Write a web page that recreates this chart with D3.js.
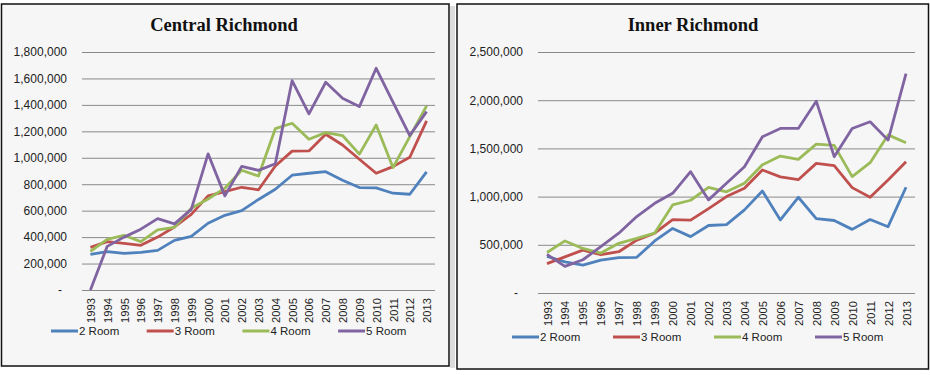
<!DOCTYPE html>
<html>
<head>
<meta charset="utf-8">
<script src="https://cdn.jsdelivr.net/npm/d3@7"></script>
<style>
  body { margin: 0; background: #fff; }
  svg { display: block; }
  .tick text { font-family: "Liberation Sans", Arial, sans-serif; fill: #222; }
  .title { font-family: "Liberation Serif", "Times New Roman", serif; font-weight: bold; font-size: 18.5px; fill: #111; }
  .legend text { font-family: "Liberation Sans", Arial, sans-serif; font-size: 11.5px; fill: #222; }
</style>
</head>
<body>
<svg id="chart" width="930" height="375"></svg>
<script>
var years = ["1993", "1994", "1995", "1996", "1997", "1998", "1999", "2000", "2001", "2002", "2003",
             "2004", "2005", "2006", "2007", "2008", "2009", "2010", "2011", "2012", "2013"];
var seriesNames = ["2 Room", "3 Room", "4 Room", "5 Room"];
var seriesColors = ["#4f81bd", "#c0504d", "#9bbb59", "#8064a2"];

// Central Richmond
var centralRoom2 = [270000, 290000, 277000, 285000, 300000, 375000, 405000, 505000, 565000, 600000, 685000,
                    762000, 868000, 883000, 895000, 830000, 775000, 772000, 732000, 724000, 893000];
var centralRoom3 = [322000, 366000, 353000, 338000, 400000, 477000, 572000, 712000, 744000, 777000, 758000,
                    938000, 1050000, 1052000, 1178000, 1097000, 989000, 883000, 933000, 1004000, 1279000];
var centralRoom4 = [292000, 383000, 414000, 366000, 454000, 474000, 618000, 688000, 770000, 906000, 862000,
                    1220000, 1261000, 1140000, 1190000, 1168000, 1028000, 1248000, 926000, 1160000, 1393000];
var centralRoom5 = [0, 330000, 400000, 460000, 540000, 500000, 610000, 1030000, 712000, 935000, 905000,
                    955000, 1584000, 1332000, 1571000, 1450000, 1387000, 1677000, 1420000, 1168000, 1349000];
var centralTicks = [0, 200000, 400000, 600000, 800000, 1000000, 1200000, 1400000, 1600000, 1800000];

// Inner Richmond
var innerRoom2 = [380000, 322000, 290000, 340000, 368000, 370000, 540000, 670000, 585000, 700000, 710000,
                  862000, 1058000, 758000, 993000, 772000, 752000, 660000, 762000, 688000, 1097000];
var innerRoom3 = [305000, 375000, 445000, 397000, 428000, 548000, 620000, 762000, 756000, 876000, 1000000,
                  1086000, 1276000, 1205000, 1175000, 1345000, 1322000, 1093000, 993000, 1172000, 1362000];
var innerRoom4 = [420000, 540000, 462000, 414000, 515000, 566000, 622000, 914000, 962000, 1095000, 1050000,
                  1138000, 1330000, 1420000, 1386000, 1545000, 1531000, 1207000, 1352000, 1640000, 1559000];
var innerRoom5 = [400000, 276000, 345000, 480000, 620000, 793000, 931000, 1034000, 1259000, 966000, 1138000,
                  1310000, 1621000, 1707000, 1707000, 1990000, 1414000, 1707000, 1776000, 1586000, 2276000];
var innerTicks = [0, 500000, 1000000, 1500000, 2000000, 2500000];

var svg = d3.select("#chart");

function drawPanel(opts) {
    var g = svg.append("g");

    // frame
    g.append("rect")
        .attr("x", opts.frame[0]).attr("y", opts.frame[1])
        .attr("width", opts.frame[2]).attr("height", opts.frame[3])
        .attr("fill", "#f6f6f6")
        .attr("stroke", "#111")
        .attr("stroke-width", 1.5);

    g.append("text")
        .attr("class", "title")
        .attr("x", opts.titleX).attr("y", 31)
        .attr("text-anchor", "middle")
        .text(opts.title);

    var x = d3.scalePoint().domain(years).range([opts.x0, opts.x1]).padding(0.5);
    var y = d3.scaleLinear().domain([0, d3.max(opts.ticks)]).range([opts.yBottom, opts.yTop]);

    var yAxis = g.append("g")
        .attr("transform", `translate(${opts.x0},0)`)
        .call(d3.axisLeft(y)
            .tickValues(opts.ticks)
            .tickSize(-(opts.x1 - opts.x0))
            .tickPadding(15)
            .tickFormat(d => d === 0 ? "-" : d3.format(",")(d)));
    yAxis.select(".domain").remove();
    yAxis.selectAll(".tick line").attr("stroke", "#8a8a8a").attr("stroke-width", 1);
    yAxis.selectAll(".tick text").style("font-size", "12px");
    yAxis.selectAll(".tick text").filter(d => d === 0).attr("x", -20);

    var xAxis = g.append("g")
        .attr("transform", `translate(0,${opts.yBottom})`)
        .call(d3.axisBottom(x).tickSize(0));
    xAxis.select(".domain").remove();
    xAxis.selectAll(".tick text")
        .style("font-size", "11.2px")
        .attr("transform", "rotate(-90)")
        .attr("text-anchor", "end")
        .attr("x", -8)
        .attr("y", 0)
        .attr("dy", "0.36em");

    var line = d3.line()
        .x((d, i) => x(years[i]))
        .y(d => y(d));

    opts.data.forEach(function(values, k) {
        g.append("path")
            .datum(values)
            .attr("fill", "none")
            .attr("stroke", seriesColors[k])
            .attr("stroke-width", 2.8)
            .attr("stroke-linejoin", "round")
            .attr("d", line);
    });

    var legend = g.append("g").attr("class", "legend");
    seriesNames.forEach(function(name, k) {
        var lx = opts.legendX + k * opts.legendStep;
        legend.append("line")
            .attr("x1", lx).attr("x2", lx + 27)
            .attr("y1", opts.legendY).attr("y2", opts.legendY)
            .attr("stroke", seriesColors[k])
            .attr("stroke-width", 3);
        legend.append("text")
            .attr("x", lx + 28).attr("y", opts.legendY)
            .attr("dy", "0.36em")
            .text(name);
    });
}

// soft shadow between the two panels
svg.append("rect").attr("x", 450).attr("y", 6).attr("width", 5).attr("height", 362).attr("fill", "#dcdcdc");

drawPanel({
    title: "Central Richmond",
    titleX: 224,
    frame: [1.5, 4, 447.5, 362],
    x0: 82, x1: 435, yBottom: 290, yTop: 52,
    ticks: centralTicks,
    data: [centralRoom2, centralRoom3, centralRoom4, centralRoom5],
    legendX: 51, legendStep: 95.7, legendY: 331
});

drawPanel({
    title: "Inner Richmond",
    titleX: 693,
    frame: [457, 4, 471.5, 365],
    x0: 538, x1: 915, yBottom: 293, yTop: 52,
    ticks: innerTicks,
    data: [innerRoom2, innerRoom3, innerRoom4, innerRoom5],
    legendX: 512, legendStep: 101, legendY: 337
});
</script>
</body>
</html>
